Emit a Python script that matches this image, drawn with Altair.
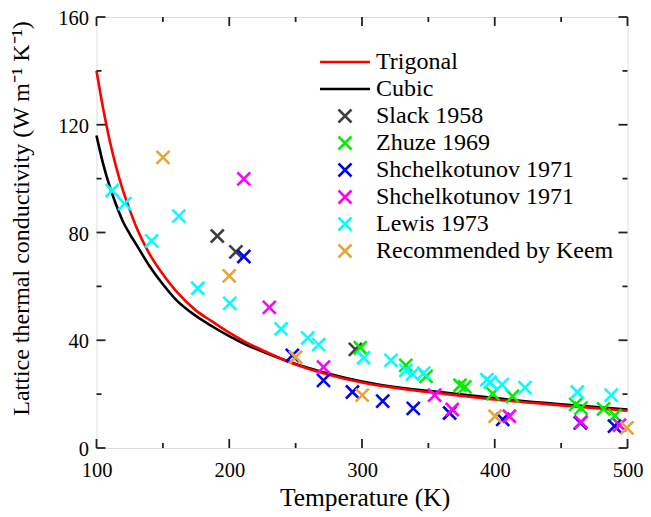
import altair as alt
import pandas as pd

# ---- data ----
curve_T = [100, 105, 110, 115, 120, 125, 130, 140, 150, 160, 175, 187, 200, 212,
           225, 250, 275, 300, 335, 362, 400, 450, 500]
trigonal = [140, 126, 114, 104, 95.5, 88.5, 82, 72, 64.5, 58.2, 51, 47, 42.8, 39.4,
            36.3, 31.0, 27.2, 24.3, 21.6, 20.1, 18.0, 15.8, 13.8]
cubic = [116, 105.5, 97, 90, 84, 79.5, 75.5, 67.5, 60.8, 55, 49, 45.2, 41.5, 38.5,
         35.8, 31.2, 27.6, 24.7, 22.0, 20.6, 18.5, 16.2, 14.3]

slack_T = [191, 205, 295]
slack_k = [78.7, 72.8, 36.6]

zhuze_T = [298.7, 333, 348.3, 373.8, 377.5, 398.5, 413.4, 461, 465, 482, 490.5]
zhuze_k = [37.2, 30.7, 26.6, 23.3, 22.7, 20.2, 19.2, 16.2, 14.8, 14.5, 12.0]

shch1_T = [211, 247.5, 271, 292.8, 315.6, 338.6, 366, 406, 464.5, 490.2]
shch1_k = [71.1, 34.4, 25.1, 20.8, 17.4, 14.7, 13.0, 10.6, 9.3, 8.1]

shch2_T = [211, 230.2, 271, 354.7, 368, 411, 465, 494]
shch2_k = [99.9, 52.2, 30.0, 19.6, 14.3, 11.8, 9.7, 8.5]

lewis_T = [111.8, 121.2, 141.5, 162, 176.3, 200.4, 239, 259.1, 267.3, 301.2, 321.8,
           333, 338, 346.5, 394, 396.5, 405.5, 422.8, 462.2, 487.7]
lewis_k = [95.6, 90.7, 76.9, 86.1, 59.3, 53.7, 44.2, 40.9, 38.4, 33.5, 32.5,
           28.8, 27.4, 27.8, 25.4, 24.4, 23.5, 22.4, 20.8, 19.6]

keem_T = [150.1, 200, 250, 300.2, 400.3, 499.6]
keem_k = [107.9, 63.9, 33.7, 19.6, 11.8, 7.5]

series = ["Trigonal", "Cubic", "Slack 1958", "Zhuze 1969", "Shchelkotunov 1971",
          "Shchelkotunov 1971 ", "Lewis 1973", "Recommended by Keem"]
colors = ["#ff0000", "#000000", "#404040", "#00ee00", "#0000ff", "#ff00ff",
          "#00ffff", "#e6a633"]
XPATH = "M-1,-1L1,1M-1,1L1,-1"
LINEPATH = "M-3.85,0L3.85,0"
shapes = [LINEPATH, LINEPATH, XPATH, XPATH, XPATH, XPATH, XPATH, XPATH]
MARK_SIZE = 169

x_major = [100, 200, 300, 400, 500]
x_minor = [150, 250, 350, 450]
y_major = [0, 40, 80, 120, 160]
y_minor = [20, 60, 100, 140]

# ---- tables ----
lines_df = pd.DataFrame(
    [{"T": t, "k": v, "series": "Trigonal"} for t, v in zip(curve_T, trigonal)]
    + [{"T": t, "k": v, "series": "Cubic"} for t, v in zip(curve_T, cubic)]
)
pts = []
for name, Ts, ks in [
    ("Slack 1958", slack_T, slack_k),
    ("Zhuze 1969", zhuze_T, zhuze_k),
    ("Shchelkotunov 1971", shch1_T, shch1_k),
    ("Shchelkotunov 1971 ", shch2_T, shch2_k),
    ("Lewis 1973", lewis_T, lewis_k),
    ("Recommended by Keem", keem_T, keem_k),
]:
    pts += [{"T": t, "k": v, "series": name} for t, v in zip(Ts, ks)]
pts_df = pd.DataFrame(pts)

W, H = 531, 431
FONT = "Liberation Serif"

xscale = alt.Scale(domain=[100, 500], nice=False)
yscale = alt.Scale(domain=[0, 160], nice=False)

color_scale = alt.Scale(domain=series, range=colors)
shape_scale = alt.Scale(domain=series, range=shapes)

legend = alt.Legend(
    title=None, orient="none", legendX=236.5, legendY=33,
    labelFont=FONT, labelFontSize=24, labelColor="#000", labelLimit=400,
    labelOffset=19, rowPadding=3, padding=0,
    symbolSize=MARK_SIZE, symbolStrokeWidth=2.6, symbolFillColor="transparent",
)

xaxis = alt.Axis(values=x_major, ticks=False, domain=False, grid=False,
                 labelFont=FONT, labelFontSize=20.5, labelColor="#000",
                 labelPadding=12, labelFlush=False,
                 title="Temperature (K)", titleFont=FONT,
                 titleFontSize=25.5, titleFontWeight="normal", titleColor="#000",
                 titleX=268, titleY=49, titleBaseline="middle")
yaxis = alt.Axis(values=y_major, ticks=False, domain=False, grid=False,
                 labelFont=FONT, labelFontSize=20.5, labelColor="#000",
                 labelPadding=8, labelFlush=False, labelOffset=1.5,
                 title="Lattice thermal conductivity (W m\u207b\u00b9 K\u207b\u00b9)",
                 titleFont=FONT, titleFontSize=24, titleFontWeight="normal",
                 titleColor="#000", titleX=-75, titleY=201, titleAngle=270,
                 titleAlign="center", titleBaseline="middle")

cubic_layer = alt.Chart(lines_df).transform_filter(alt.datum.series == "Cubic").mark_line(
    strokeWidth=2.6, interpolate="monotone"
).encode(
    x=alt.X("T:Q", scale=xscale, axis=xaxis),
    y=alt.Y("k:Q", scale=yscale, axis=yaxis),
    color=alt.Color("series:N", scale=color_scale, legend=legend),
)
trig_layer = alt.Chart(lines_df).transform_filter(alt.datum.series == "Trigonal").mark_line(
    strokeWidth=2.6, interpolate="monotone"
).encode(
    x="T:Q", y="k:Q",
    color=alt.Color("series:N", scale=color_scale, legend=legend),
)
points_layer = alt.Chart(pts_df).mark_point(
    filled=False, strokeWidth=2.6, opacity=1, size=MARK_SIZE
).encode(
    x="T:Q", y="k:Q",
    color=alt.Color("series:N", scale=color_scale, legend=legend),
    shape=alt.Shape("series:N", scale=shape_scale, legend=legend),
)

# inward ticks on all four sides
tick_style = dict(color="#222", strokeWidth=1.8)


def xticks(vals, length, top):
    d = pd.DataFrame({"v": vals})
    if top:
        return alt.Chart(d).mark_rule(**tick_style).encode(x="v:Q", y=alt.value(0), y2=alt.value(length))
    return alt.Chart(d).mark_rule(**tick_style).encode(x="v:Q", y=alt.value(H), y2=alt.value(H - length))


def yticks(vals, length, right):
    d = pd.DataFrame({"v": vals})
    if right:
        return alt.Chart(d).mark_rule(**tick_style).encode(y="v:Q", x=alt.value(W), x2=alt.value(W - length))
    return alt.Chart(d).mark_rule(**tick_style).encode(y="v:Q", x=alt.value(0), x2=alt.value(length))


ticks = [
    xticks(x_major, 9, False), xticks(x_minor, 5, False),
    xticks(x_major, 9, True), xticks(x_minor, 5, True),
    yticks(y_major, 9, False), yticks(y_minor, 5, False),
    yticks(y_major, 9, True), yticks(y_minor, 5, True),
]

chart = alt.layer(cubic_layer, trig_layer, points_layer, *ticks).properties(
    width=W, height=H,
    autosize=alt.AutoSizeParams(type="none"),
    padding={"left": 88.5, "top": 9, "right": 15.5, "bottom": 68},
).configure_view(stroke="#222", strokeWidth=2).configure(background="white")

chart.save("out.html", embed_options={"renderer": "svg", "actions": False})
